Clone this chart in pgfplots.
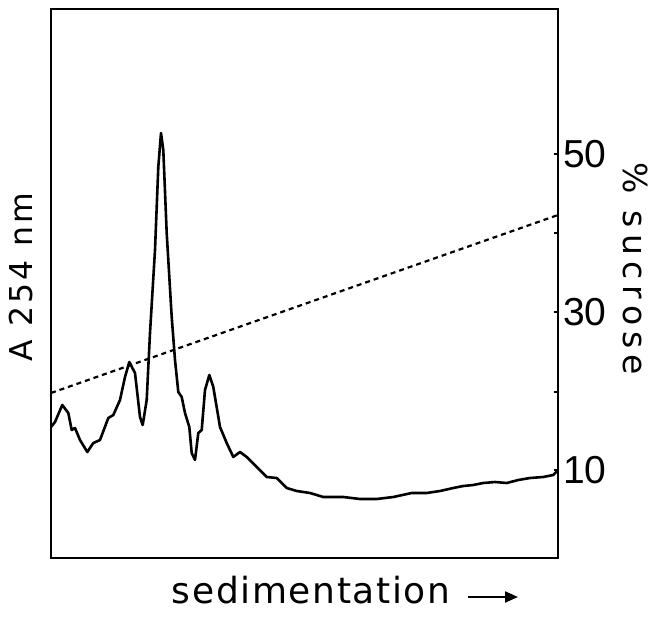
\documentclass[border=0pt]{standalone}
\usepackage{pgfplots}
\pgfplotsset{compat=1.18}
\usepackage{fontspec}
\setmainfont{Liberation Sans}
\newfontfamily\lsA[LetterSpace=10]{DejaVu Sans}
\newfontfamily\lsB[LetterSpace=19]{DejaVu Sans}
\newfontfamily\lsC[LetterSpace=4.5]{DejaVu Sans}
\usetikzlibrary{arrows.meta}
\begin{document}
\begin{tikzpicture}
\useasboundingbox (-51pt,-58pt) rectangle (609pt,558pt);
\begin{axis}[
  at={(0pt,0pt)}, anchor=south west,
  width=507pt, height=549pt, scale only axis,
  xmin=51, xmax=558, ymin=0, ymax=549,
  axis line style={line width=2.6pt},
  xtick=\empty,
  ytick={88,166,246,325,404},
  yticklabels={10,,30,,50},
  ytick pos=right,
  tick align=inside,
  major tick length=4pt,
  tick style={line width=1.6pt, black},
  /pgf/number format/assume math mode=true,
  yticklabel style={font=\fontsize{39}{40}\selectfont, inner sep=0pt, xshift=5pt},
]
\addplot[black, line width=2.6pt, line join=round] coordinates {
(51,131) (55,136) (62.3,153) (68.3,145) (71.7,128) (75,130) (80,118)
(87.3,106) (93.3,115) (100,118) (108.3,140) (113.3,143) (120,158)
(125,181) (129.3,196) (135,185) (140,141) (142.7,133) (146.7,158)
(148.3,191) (150,225) (155,308) (158.3,391) (161,425) (163.3,408)
(166.7,325) (171.7,241) (175,198) (178.3,166) (181.7,161) (185,145)
(189.3,131) (191.7,105) (195,98) (198.3,125) (201.7,128) (205,168)
(209.3,183) (213.3,171) (220,131) (226.7,115) (233.3,101) (240,106)
(246.7,101) (256.7,91) (266.7,81) (276.7,80) (286.7,70) (296.7,67)
(310,65) (323.3,61) (343.3,61) (360,59) (376.7,59) (393.3,61)
(411.7,65) (426.7,65) (440,67) (453.3,70) (463.3,72) (473.3,73)
(483.3,75) (495,76) (506.7,75) (518.3,78) (530,80) (543.3,81)
(553.3,83) (558,88)
};
\addplot[black, line width=2.2pt, dash pattern=on 5pt off 4pt] coordinates {
(51,165) (558,343)
};
\end{axis}
\node[rotate=90, anchor=base, inner sep=0pt, font=\lsA\fontsize{31.5}{34}\selectfont] at (-18pt,281pt) {A 254 nm};
\node[rotate=-90, anchor=base, inner sep=0pt, font=\lsB\fontsize{33}{36}\selectfont] at (572pt,289pt) {\% sucrose};
\node[anchor=base west, inner sep=0pt, font=\lsC\fontsize{36}{38}\selectfont] at (120.7pt,-45pt) {sedimentation};
\draw[line width=2.2pt, -{Triangle[length=13pt,width=11pt]}] (417pt,-39pt) -- (467pt,-39pt);
\end{tikzpicture}
\end{document}
